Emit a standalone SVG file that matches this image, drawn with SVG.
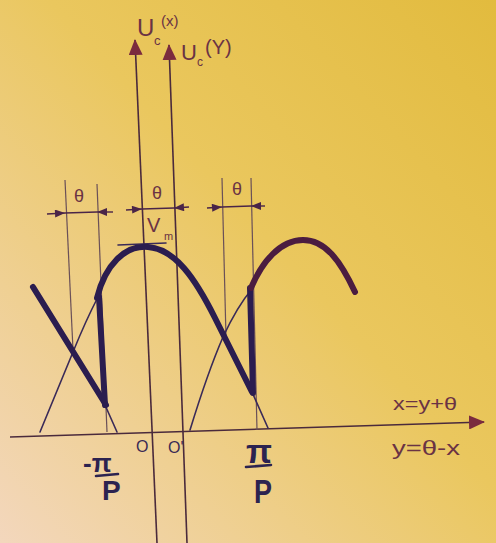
<svg xmlns="http://www.w3.org/2000/svg" width="496" height="543" viewBox="0 0 496 543">
<defs>
<linearGradient id="paper" x1="1" y1="0" x2="0" y2="1">
<stop offset="0" stop-color="#e2bb3e"/>
<stop offset="0.45" stop-color="#eac75e"/>
<stop offset="1" stop-color="#f3d7bd"/>
</linearGradient>
<marker id="axisArrow" viewBox="0 0 16 14" refX="15" refY="7" markerWidth="16" markerHeight="14" orient="auto" markerUnits="userSpaceOnUse">
<path d="M0,0 L16,7 L0,14 Z" fill="#7b2b3e"/>
</marker>
<marker id="dimArrow" viewBox="0 0 10 8" refX="10" refY="4" markerWidth="11" markerHeight="8" orient="auto" markerUnits="userSpaceOnUse">
<path d="M0,0 L10,4 L0,8 Z" fill="#4a2548"/>
</marker>
<style>
.axis{stroke:#4a2a3c;stroke-width:1.6;fill:none;marker-end:url(#axisArrow)}
.guide{stroke:#6a5058;stroke-width:1.2;fill:none}
.thin{stroke:#3a2a58;stroke-width:1.6;fill:none;stroke-linecap:round}
.thick{stroke:#2b1d4f;stroke-width:6;fill:none;stroke-linecap:round;stroke-linejoin:round}
.thick2{stroke:#4b1c40;stroke-width:6;fill:none;stroke-linecap:round;stroke-linejoin:round}
.dim{stroke:#4a2548;stroke-width:1.4;fill:none}
.dimA{stroke:#4a2548;stroke-width:1.4;fill:none;marker-end:url(#dimArrow)}
.lbl{font-family:"Liberation Sans",Arial,sans-serif;fill:#6a3344}
.org{font-family:"Liberation Sans",Arial,sans-serif;fill:#3a2a55}
.frac{font-family:"Liberation Sans",Arial,sans-serif;font-weight:bold;fill:#2c2350}
.bar{stroke:#2c2350;stroke-width:2.6;stroke-linecap:round}
</style>
</defs>
<rect width="496" height="543" fill="url(#paper)"/>

<g id="axes">
<line class="axis" x1="157" y1="543" x2="135" y2="40"/>
<line class="axis" x1="187" y1="543" x2="169" y2="45"/>
<line class="axis" x1="10" y1="437" x2="484" y2="422"/>
</g>

<g id="guides">
<line class="guide" x1="65" y1="180" x2="73" y2="350"/>
<line class="guide" x1="97" y1="184" x2="107" y2="432"/>
<line class="guide" x1="222" y1="178" x2="226" y2="337"/>
<line class="guide" x1="251" y1="178" x2="257" y2="430"/>
</g>

<g id="curves">
<path class="thin" d="M40,432 L73,352 Q86,320 98,297"/>
<path class="thin" d="M105,405 L117,432"/>
<path class="thin" d="M190,430 C198,404 210,367 223,337 C230,322 240,303 252,289"/>
<path class="thin" d="M252,392 L268,428"/>
<line class="thin" x1="118" y1="245" x2="166" y2="243" stroke-width="2"/>
<path class="thick" d="M33,287 L106,405"/>
<path class="thick" d="M99,297 L105,405"/>
<path class="thick" d="M97,298 C105,265 125,245 148,247 C175,249 195,278 215,318 L252,392"/>
<path class="thick" d="M250,288 L253,393"/>
<path class="thick2" d="M251,288 C262,262 280,240 303,240 C325,240 340,260 355,292"/>
</g>

<g id="dimensions">
<path class="dimA" d="M47,214 L65,213"/>
<path class="dimA" d="M113,212 L97,212"/>
<path class="dim" d="M65,213 L97,212"/>
<path class="dimA" d="M126,210 L142,209"/>
<path class="dimA" d="M189,207 L174,208"/>
<path class="dim" d="M142,209 L174,208"/>
<path class="dimA" d="M207,208 L222,207"/>
<path class="dimA" d="M265,206 L251,206"/>
<path class="dim" d="M222,207 L251,206"/>
</g>

<g id="labels">
<text class="lbl" font-size="24"><tspan x="137" y="36">U</tspan><tspan x="154" y="45" font-size="13">c</tspan><tspan x="161" y="26" font-size="15">(x)</tspan></text>
<text class="lbl" font-size="22"><tspan x="181" y="60">U</tspan><tspan x="197" y="66" font-size="12">c</tspan><tspan x="205" y="54" font-size="20">(Y)</tspan></text>
<text class="lbl" font-size="18" text-anchor="middle" x="79" y="202">θ</text>
<text class="lbl" font-size="18" text-anchor="middle" x="157" y="199">θ</text>
<text class="lbl" font-size="18" text-anchor="middle" x="237" y="195">θ</text>
<text class="lbl" font-size="20" fill="#3a2040"><tspan x="147" y="232">V</tspan><tspan x="164" y="240" font-size="11">m</tspan></text>
<text class="org" font-size="16" x="136" y="452">O</text>
<text class="org" font-size="16" x="168" y="453">O'</text>
<text class="frac" font-size="26" x="83" y="472">-π</text>
<line class="bar" x1="96" y1="476" x2="118" y2="474"/>
<text class="frac" font-size="28" x="102" y="500">P</text>
<text class="frac" font-size="34" x="246" y="463">π</text>
<line class="bar" x1="246" y1="467" x2="271" y2="465"/>
<text class="frac" font-size="34" x="254" y="503" textLength="18" lengthAdjust="spacingAndGlyphs">P</text>
<text class="lbl" font-size="19" x="393" y="410" textLength="64" lengthAdjust="spacingAndGlyphs">x=y+θ</text>
<text class="lbl" font-size="20" x="392" y="455" textLength="68" lengthAdjust="spacingAndGlyphs">y=θ-x</text>
</g>
</svg>
